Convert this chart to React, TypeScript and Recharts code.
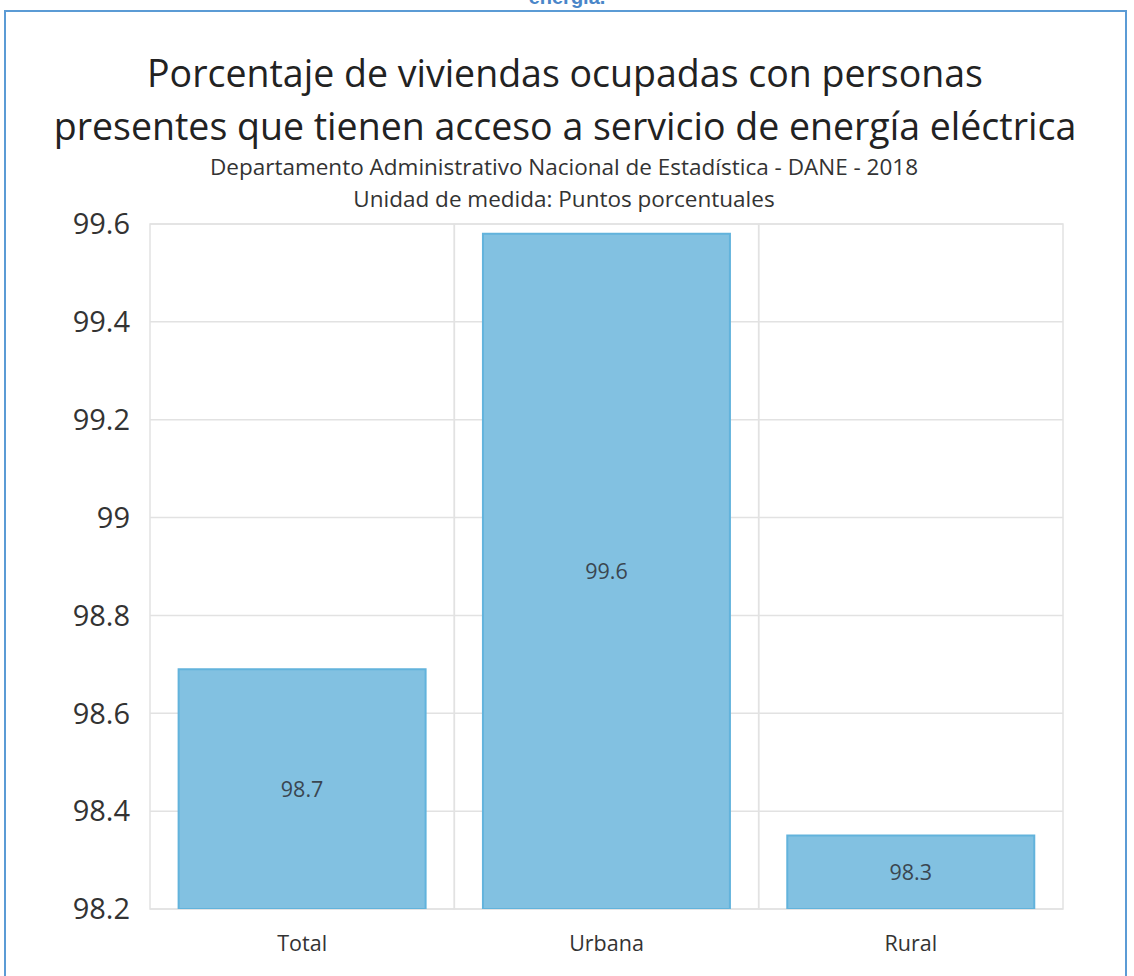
import React from "react";
import { BarChart, Bar, XAxis, YAxis, CartesianGrid, LabelList, ReferenceArea } from "recharts";

const categories = ["Total", "Urbana", "Rural"];
const values = [98.69, 99.58, 98.35];
const valueLabels = ["98.7", "99.6", "98.3"];
const yTicks = [98.2, 98.4, 98.6, 98.8, 99, 99.2, 99.4, 99.6];

const data = categories.map((c, i) => ({ name: c, value: values[i], label: valueLabels[i] }));

const FONT = "'Open Sans', 'Noto Sans', sans-serif";
const GRID = "#e2e2e2";

export default function App() {
  return (
    <div style={{ position: "absolute", left: 0, top: 0, width: 1134, height: 976, background: "#fff", overflow: "hidden", fontFamily: FONT }}>
      <div style={{ position: "absolute", left: 0, width: 1134, top: -14, textAlign: "center", color: "#4a86c8", fontWeight: 700, fontSize: 20, fontFamily: "'Liberation Sans', Arial, sans-serif" }}>
        energía.
      </div>
      <div style={{ position: "absolute", left: 4, top: 10, width: 1123, height: 980, border: "2px solid #5b9bd5", borderBottom: "none", boxSizing: "border-box" }} />
      <div style={{ position: "absolute", left: 0, width: 1130, top: 46, textAlign: "center", color: "#222", fontSize: 37.5, lineHeight: "53px" }}>
        Porcentaje de viviendas ocupadas con personas<br />presentes que tienen acceso a servicio de energía eléctrica
      </div>
      <div style={{ position: "absolute", left: 0, width: 1128, top: 151, textAlign: "center", color: "#333", fontSize: 22.5, lineHeight: "32px" }}>
        Departamento Administrativo Nacional de Estadística - DANE - 2018<br />Unidad de medida: Puntos porcentuales
      </div>
      <div style={{ position: "absolute", left: 0, top: 0 }}>
        <BarChart width={1134} height={976} data={data} margin={{ left: 90, right: 71, top: 224, bottom: 37 }} barCategoryGap="9.4%">
          <XAxis dataKey="name" height={30} axisLine={false} tickLine={false} tick={{ fontSize: 21.5, fill: "#333", fontFamily: FONT }} dy={19} />
          <YAxis domain={[98.2, 99.6]} ticks={yTicks} width={60} axisLine={false} tickLine={false} allowDataOverflow tick={{ fontSize: 29, fill: "#333", fontFamily: FONT }} tickFormatter={(v: number) => String(Math.round(v * 10) / 10)} tickMargin={14} />
          <CartesianGrid vertical={false} stroke={GRID} strokeWidth={1.5} />
          {categories.map((c) => (
            <ReferenceArea key={c} x1={c} x2={c} fill="none" fillOpacity={0} stroke={GRID} strokeWidth={1.5} ifOverflow="visible" />
          ))}
          <Bar dataKey="value" fill="#82c1e1" stroke="#62b3dc" strokeWidth={2} isAnimationActive={false}>
            <LabelList dataKey="label" position="center" style={{ fontSize: 21.5, fill: "#3a4650", fontFamily: FONT }} />
          </Bar>
        </BarChart>
      </div>
    </div>
  );
}
